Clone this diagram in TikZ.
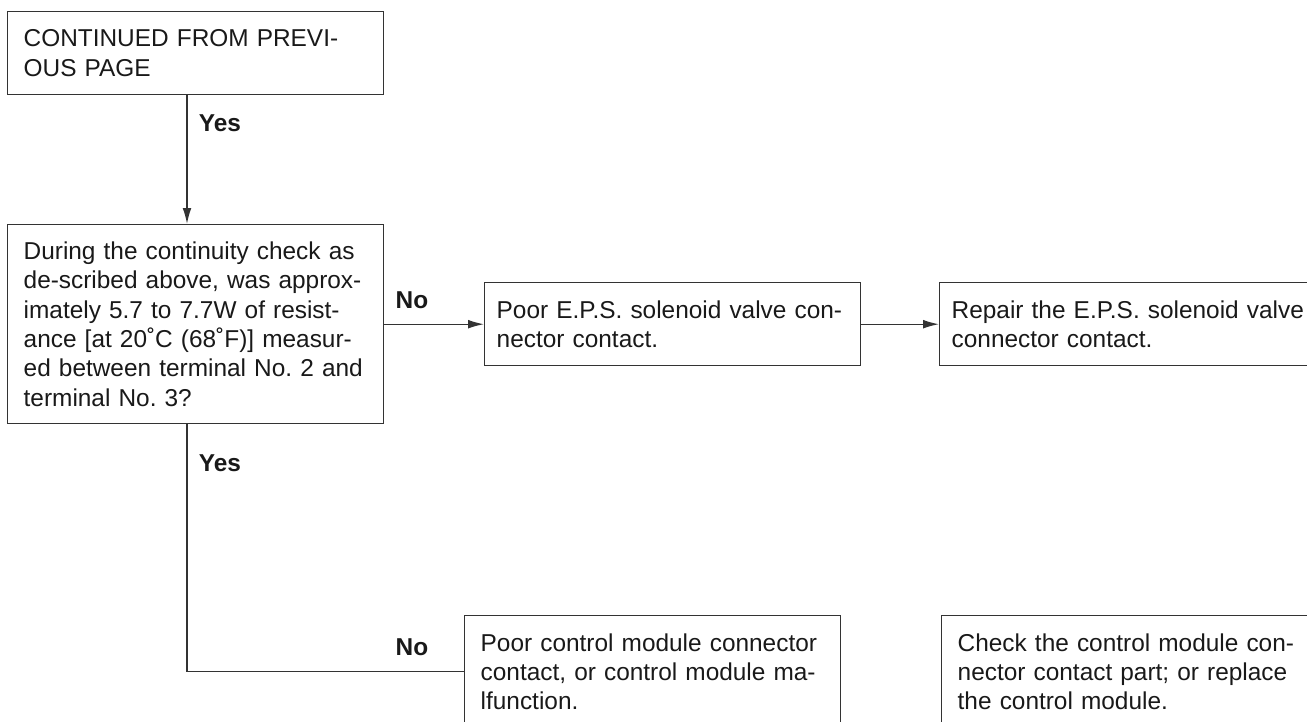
\documentclass[tikz,border=0pt]{standalone}
\usepackage{fontspec}
\setmainfont{Liberation Sans}
\usetikzlibrary{arrows.meta}
\newcommand{\zl}[1]{\mbox{#1}}
\begin{document}
\begin{tikzpicture}[x=0.5pt, y=-0.5pt, >={Latex[length=8pt,width=4.4pt]},
    font=\fontsize{12.2}{14.65}\selectfont, line width=0.7pt, draw=black!80,
    box/.style={draw=black!80, anchor=north west, text width=172pt, inner xsep=8pt,
        inner ysep=0pt, align=left, text=black!90,
        execute at begin node=\frenchspacing},
    twoline/.style={box, minimum height=41.5pt},
    threeline/.style={box, minimum height=56pt},
    answer/.style={font=\fontsize{12.2}{14.65}\selectfont\bfseries, text=black!90}]

    \useasboundingbox (0,0) rectangle (1307,722);

    % Kaesten
    \node[twoline] (cont) at (7,11) {\zl{CONTINUED FROM PREVI-}\\OUS PAGE};
    \node[box, minimum height=99.5pt] (check) at (7,224)
        {\zl{During the continuity check as}\\\zl{de-scribed above, was approx-}\\
         \zl{imately 5.7 to 7.7W of resist-}\\\zl{ance [at 20˚C (68˚F)] measur-}\\
         \zl{ed between terminal No. 2 and}\\terminal No. 3?};
    \node[twoline, inner xsep=6pt, text width=176pt] (poor) at (484,282)
        {\zl{Poor E.P.S. solenoid valve con-}\\nector contact.};
    \node[twoline, inner xsep=6pt, text width=176pt] (repair) at (939,282)
        {\zl{Repair the E.P.S. solenoid valve}\\connector contact.};
    \node[threeline] (module) at (464,615)
        {\zl{Poor control module connector}\\\zl{contact, or control module ma-}\\lfunction.};
    \node[threeline] (replace) at (941,615)
        {\zl{Check the control module con-}\\\zl{nector contact part; or replace}\\the control module.};

    % Verbindungen
    \coordinate (trunk) at (187,0);
    \draw[->] (cont.south -| trunk) -- (check.north -| trunk);
    \draw[->] (check.east) -- (poor.west);
    \draw[->] (poor.east) -- (repair.west);
    \draw (check.south -| trunk) |- (module.west);

    % Antworten
    \node[answer] (yesa) at (220,123) {Yes};
    \node[answer] (noa) at (412,300) {No};
    \node[answer] (yesb) at (220,463) {Yes};
    \node[answer] (nob) at (412,647) {No};

\end{tikzpicture}
\end{document}
